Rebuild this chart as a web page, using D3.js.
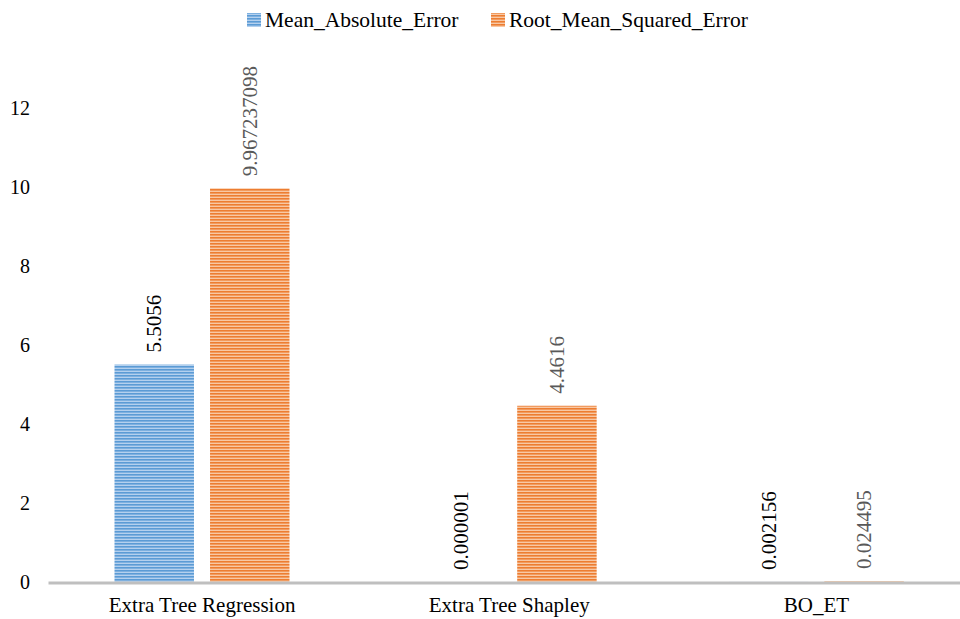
<!DOCTYPE html>
<html><head><meta charset="utf-8">
<script src="https://cdn.jsdelivr.net/npm/d3@7"></script>
<style>body{margin:0;background:#fff}svg{display:block}text{font-family:"Liberation Serif","Times New Roman",serif}</style>
</head><body><svg id="c" width="960" height="619"></svg>
<script>
const categories = ["Extra Tree Regression", "Extra Tree Shapley", "BO_ET"];
const seriesNames = ["Mean_Absolute_Error", "Root_Mean_Squared_Error"];
const maeValues = [5.5056, 0.000001, 0.002156];
const rmseValues = [9.967237098, 4.4616, 0.024495];
const maeLabels = ["5.5056", "0.000001", "0.002156"];
const rmseLabels = ["9.967237098", "4.4616", "0.024495"];
const yTicks = [0, 2, 4, 6, 8, 10, 12];

const svg = d3.select("#c");
const defs = svg.append("defs");
function stripe(id, dark, light) {
  const p = defs.append("pattern").attr("id", id).attr("patternUnits", "userSpaceOnUse")
    .attr("width", 6).attr("height", 3);
  p.append("rect").attr("width", 6).attr("height", 3).attr("fill", light);
  p.append("rect").attr("width", 6).attr("height", 1.6).attr("fill", dark);
}
stripe("pBlue", "#5b9bd5", "#b4d0ee");
stripe("pOrange", "#ed7d31", "#f8c8a4");
const fills = ["url(#pBlue)", "url(#pOrange)"];
const labelColors = ["#000000", "#595959"];

const y = d3.scaleLinear().domain([0, 12]).range([582, 108]);
const x0 = d3.scaleBand().domain(categories).range([48.5, 970]).padding(0);
const x1 = d3.scaleBand().domain(seriesNames).range([66, 241]).paddingInner(0.168).paddingOuter(0);

const data = categories.map((c, i) => ({
  cat: c,
  vals: [
    {s: seriesNames[0], v: maeValues[i], l: maeLabels[i], k: 0},
    {s: seriesNames[1], v: rmseValues[i], l: rmseLabels[i], k: 1}
  ]
}));

const yAxis = d3.axisLeft(y).tickValues(yTicks).tickSize(0).tickPadding(0).tickFormat(d3.format("d"));
const ya = svg.append("g").attr("transform", "translate(30,0)").call(yAxis);
ya.select(".domain").remove();
ya.attr("font-family", null);
ya.selectAll("text").attr("font-size", 20).attr("fill", "#000");

const g = svg.selectAll("g.grp").data(data).enter().append("g").attr("class", "grp")
  .attr("transform", d => `translate(${x0(d.cat)},0)`);
g.selectAll("rect").data(d => d.vals).enter().append("rect")
  .attr("x", d => x1(d.s)).attr("width", x1.bandwidth())
  .attr("y", d => y(d.v)).attr("height", d => y(0) - y(d.v))
  .attr("fill", d => fills[d.k]);
g.selectAll("text.lbl").data(d => d.vals).enter().append("text").attr("class", "lbl")
  .attr("transform", d => `translate(${x1(d.s) + x1.bandwidth() / 2},${y(d.v) - 12}) rotate(-90)`)
  .attr("dy", "0.33em").attr("text-anchor", "start")
  .attr("font-size", 21).attr("fill", d => labelColors[d.k]).text(d => d.l);

const xAxis = d3.axisBottom(x0).tickSize(0).tickPadding(0);
const xa = svg.append("g").attr("transform", "translate(0,583)").call(xAxis);
xa.select(".domain").remove();
xa.attr("font-family", null);
xa.selectAll("text").attr("font-size", 21).attr("fill", "#000").attr("dy", "0").attr("y", 29);
svg.append("line").attr("x1", 48.5).attr("x2", 960).attr("y1", 583).attr("y2", 583)
  .attr("stroke", "#bfbfbf").attr("stroke-width", 3);

const legX = [247, 491];
const lg = svg.selectAll("g.leg").data(seriesNames).enter().append("g").attr("class", "leg")
  .attr("transform", (d, i) => `translate(${legX[i]},0)`);
lg.append("rect").attr("x", 0).attr("y", 13).attr("width", 14).attr("height", 14)
  .attr("fill", (d, i) => fills[i]);
lg.append("text").attr("x", 18).attr("y", 27).attr("font-size", 21.5).attr("fill", "#000").text(d => d);
</script></body></html>
